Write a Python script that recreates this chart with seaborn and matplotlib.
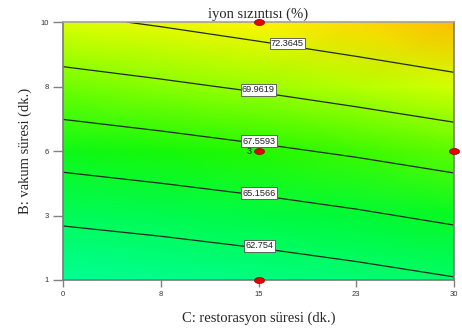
import numpy as np
import matplotlib
matplotlib.use("Agg")
import matplotlib.pyplot as plt
import seaborn as sns
from matplotlib.colors import LinearSegmentedColormap, Normalize
from matplotlib.path import Path

# Factor levels (minutes) at which the response is tabulated
restorasyon = [0, 7.5, 15, 22.5, 30]       # C: restorasyon süresi
vakum = [1, 3.25, 5.5, 7.75, 10]           # B: vakum süresi

# Predicted ion leakage (%); rows follow `vakum`, columns follow `restorasyon`
iyon = [
    [60.35, 60.80, 61.31, 61.91, 62.61],
    [63.22, 63.68, 64.22, 64.86, 65.60],
    [66.11, 66.63, 67.21, 67.85, 68.57],
    [69.07, 69.62, 70.23, 70.93, 71.69],
    [71.97, 72.58, 73.27, 74.00, 74.76],
]

contour_levels = [62.754, 65.1566, 67.5593, 69.9619, 72.3645]

x_ticklabels = ["0", "8", "15", "23", "30"]
y_ticklabels = ["1", "3", "6", "8", "10"]

# Design points and their replicate counts
design_c = [15, 15, 30, 15]
design_b = [10, 5.5, 5.5, 1]
replicates = [1, 3, 1, 1]

sns.set_style("white")
plt.rcParams["font.family"] = ["Liberation Serif", "DejaVu Serif"]

fig = plt.figure(figsize=(4.62, 3.32), dpi=100)
ax = fig.add_axes([63 / 462, 1 - 280 / 332, (454 - 63) / 462, (280 - 22) / 332])

# Blue-green-yellow-red response palette
stops = [
    (60.0, (0, 255, 155)),
    (62.5, (0, 252, 105)),
    (65.0, (0, 250, 50)),
    (67.0, (25, 248, 0)),
    (69.5, (130, 255, 0)),
    (72.0, (220, 255, 0)),
    (73.3, (255, 245, 0)),
    (75.0, (255, 180, 0)),
]
lo, hi = stops[0][0], stops[-1][0]
cmap = LinearSegmentedColormap.from_list(
    "resp", [((v - lo) / (hi - lo), tuple(c / 255 for c in rgb)) for v, rgb in stops]
)
norm = Normalize(lo, hi)

X, Y = np.meshgrid(restorasyon, vakum)
Z = np.array(iyon)

ax.pcolormesh(X, Y, Z, shading="gouraud", cmap=cmap, norm=norm, zorder=0)
cs = ax.contour(X, Y, Z, levels=contour_levels, colors="#1e2a1e", linewidths=0.9, zorder=2)

label_spots = [(15, 1.9), (15, 3.8), (15, 5.7), (15, 7.6), (17.3, 9.4)]
labels = ax.clabel(cs, fmt=lambda v: f"{v:.6g}", inline=False, fontsize=6.6,
                   manual=label_spots, colors="#202020")
for t in labels:
    t.set_rotation(0)
    t.set_family(["Liberation Sans", "DejaVu Sans"])
    x, y = t.get_position()
    t.set_position((x, y + 0.08))
    t.set_bbox(dict(boxstyle="square,pad=0.15", fc="white", ec="#505050", lw=0.6))
    t.set_zorder(4)

# Ellipse-shaped design point marker
theta = np.linspace(0, 2 * np.pi, 60)
ellipse = Path(np.column_stack([np.cos(theta), 0.6 * np.sin(theta)]))
sns.scatterplot(x=design_c, y=design_b, marker=ellipse, s=52, color="#e60000",
                edgecolor="#8a0000", linewidth=0.5, clip_on=False, zorder=6, ax=ax,
                legend=False)
for c, b, n in zip(design_c, design_b, replicates):
    if n > 1:
        ax.annotate(str(n), (c, b), xytext=(-5, 0), textcoords="offset points",
                    ha="right", va="center", fontsize=6.5, color="#202020",
                    family=["Liberation Sans", "DejaVu Sans"], zorder=6)

ax.set_xlim(0, 30)
ax.set_ylim(1, 10)
ax.set_xticks(restorasyon)
ax.set_xticklabels(x_ticklabels)
ax.set_yticks(vakum)
ax.set_yticklabels(y_ticklabels)
for lab in ax.get_xticklabels() + ax.get_yticklabels():
    lab.set_family(["Liberation Sans", "DejaVu Sans"])
ax.tick_params(axis="y", direction="out", length=7.5, width=1, color="#808080",
               labelsize=5.5, labelcolor="#333333", pad=3, left=True)
ax.tick_params(axis="x", direction="out", length=5, width=1, color="#808080",
               labelsize=5.5, labelcolor="#333333", pad=3, bottom=True)
for side in ["left", "bottom", "right"]:
    ax.spines[side].set_color("#7a7a7a")
    ax.spines[side].set_linewidth(1.2)
ax.spines["top"].set_color("#a0a0a0")
ax.spines["top"].set_linewidth(1.2)

ax.set_title("iyon sızıntısı (%)", fontsize=10.5, pad=3)
ax.set_xlabel("C: restorasyon süresi (dk.)", fontsize=10.5, labelpad=10)
ax.set_ylabel("B: vakum süresi (dk.)", fontsize=10.5, labelpad=6)

fig.savefig("out.png", dpi=100)
